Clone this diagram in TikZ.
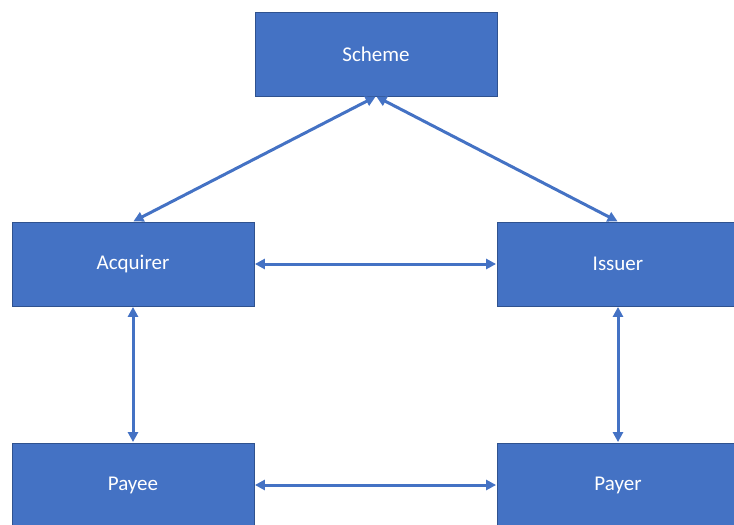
\documentclass[tikz,border=0pt]{standalone}
\usepackage{fontspec}
\setmainfont{Carlito}
\usetikzlibrary{arrows.meta}
\definecolor{boxfill}{HTML}{4472C4}
\definecolor{boxline}{HTML}{2F528F}
\begin{document}
\begin{tikzpicture}[x=1pt,y=-1pt,
  entity/.style={draw=boxline, line width=0.8pt, fill=boxfill, minimum width=242pt, minimum height=84pt, inner sep=0pt, text=white, font=\fontsize{21}{25}\selectfont},
  link/.style={draw=boxfill, line width=3pt, {Triangle[length=10pt,width=10pt]}-{Triangle[length=10pt,width=10pt]}, shorten <=0.5pt, shorten >=0.5pt}]
\useasboundingbox (0,0) rectangle (734,525);
\clip (0,0) rectangle (734,525);
\node[entity] (scheme) at (376,54) {Scheme};
\node[entity] (acq) at (133,264) {Acquirer};
\node[entity] (iss) at (618,264) {Issuer};
\node[entity] (payee) at (133,485) {Payee};
\node[entity] (payer) at (618,485) {Payer};
\draw[link] (scheme.south) -- (acq.north);
\draw[link] (scheme.south) -- (iss.north);
\draw[link] (acq.east) -- (iss.west);
\draw[link] (acq.south) -- (payee.north);
\draw[link] (iss.south) -- (payer.north);
\draw[link] (payee.east) -- (payer.west);
\end{tikzpicture}
\end{document}
